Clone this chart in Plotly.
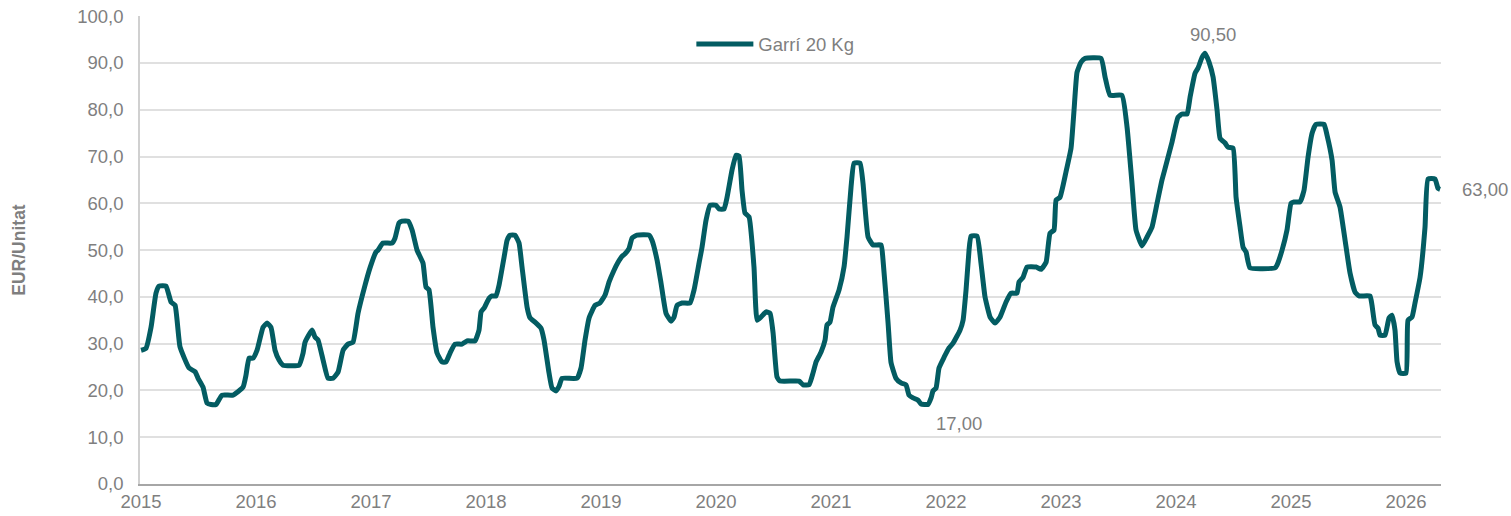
import plotly.graph_objects as go

# Decimal-year positions and prices (EUR/Unitat)
years = [
    2015.000, 2015.043, 2015.087, 2015.130, 2015.157, 2015.217, 2015.261, 2015.296, 2015.339, 2015.417,
    2015.470, 2015.496, 2015.539, 2015.574, 2015.609, 2015.652, 2015.704, 2015.800, 2015.887, 2015.913,
    2015.939, 2015.974, 2016.009, 2016.061, 2016.096, 2016.130, 2016.165, 2016.200, 2016.235, 2016.374,
    2016.409, 2016.426, 2016.487, 2016.513, 2016.539, 2016.583, 2016.626, 2016.670, 2016.713, 2016.757,
    2016.800, 2016.843, 2016.887, 2016.948, 2016.991, 2017.043, 2017.061, 2017.104, 2017.183, 2017.209,
    2017.243, 2017.270, 2017.322, 2017.357, 2017.400, 2017.452, 2017.478, 2017.504, 2017.539, 2017.574,
    2017.617, 2017.652, 2017.687, 2017.730, 2017.791, 2017.835, 2017.904, 2017.939, 2017.957, 2017.983,
    2018.026, 2018.052, 2018.087, 2018.113, 2018.157, 2018.183, 2018.209, 2018.252, 2018.287, 2018.313,
    2018.357, 2018.383, 2018.426, 2018.478, 2018.504, 2018.548, 2018.574, 2018.609, 2018.635, 2018.661,
    2018.791, 2018.826, 2018.861, 2018.896, 2018.948, 2018.991, 2019.035, 2019.070, 2019.113, 2019.148,
    2019.183, 2019.200, 2019.243, 2019.270, 2019.313, 2019.417, 2019.443, 2019.487, 2019.522, 2019.565,
    2019.609, 2019.635, 2019.661, 2019.704, 2019.774, 2019.809, 2019.852, 2019.878, 2019.913, 2019.948,
    2020.000, 2020.026, 2020.070, 2020.096, 2020.139, 2020.174, 2020.200, 2020.226, 2020.252, 2020.287,
    2020.330, 2020.357, 2020.391, 2020.435, 2020.470, 2020.496, 2020.530, 2020.557, 2020.722, 2020.757,
    2020.809, 2020.843, 2020.870, 2020.913, 2020.948, 2020.965, 2020.991, 2021.017, 2021.070, 2021.113,
    2021.139, 2021.174, 2021.200, 2021.252, 2021.278, 2021.322, 2021.365, 2021.435, 2021.452, 2021.496,
    2021.522, 2021.565, 2021.609, 2021.652, 2021.678, 2021.713, 2021.757, 2021.783, 2021.843, 2021.870,
    2021.887, 2021.913, 2021.939, 2021.983, 2022.026, 2022.061, 2022.122, 2022.148, 2022.174, 2022.200,
    2022.217, 2022.270, 2022.304, 2022.339, 2022.383, 2022.426, 2022.470, 2022.522, 2022.565, 2022.617,
    2022.635, 2022.670, 2022.704, 2022.783, 2022.826, 2022.870, 2022.904, 2022.939, 2022.957, 2022.991,
    2023.043, 2023.087, 2023.113, 2023.139, 2023.174, 2023.209, 2023.348, 2023.383, 2023.426, 2023.530,
    2023.574, 2023.617, 2023.652, 2023.704, 2023.748, 2023.791, 2023.835, 2023.878, 2023.913, 2023.965,
    2024.017, 2024.052, 2024.096, 2024.122, 2024.165, 2024.191, 2024.226, 2024.252, 2024.287, 2024.322,
    2024.357, 2024.383, 2024.426, 2024.452, 2024.496, 2024.522, 2024.557, 2024.583, 2024.609, 2024.643,
    2024.861, 2024.878, 2024.922, 2024.965, 2025.000, 2025.026, 2025.078, 2025.113, 2025.148, 2025.183,
    2025.217, 2025.287, 2025.313, 2025.357, 2025.383, 2025.426, 2025.470, 2025.513, 2025.557, 2025.591,
    2025.687, 2025.704, 2025.730, 2025.757, 2025.774, 2025.817, 2025.852, 2025.878, 2025.904, 2025.922,
    2025.948, 2026.000, 2026.017, 2026.052, 2026.078, 2026.122, 2026.165, 2026.191, 2026.252, 2026.278,
    2026.296,
]
prices = [
    28.6, 29.0, 33.5, 40.8, 42.3, 42.3, 38.9, 38.2, 29.3, 24.8,
    24.0, 22.6, 20.7, 17.3, 17.0, 17.0, 19.0, 19.0, 20.7, 23.3,
    26.9, 26.9, 28.6, 33.5, 34.4, 33.5, 28.6, 26.5, 25.4, 25.4,
    28.0, 30.3, 32.9, 31.4, 30.8, 26.5, 22.6, 22.6, 23.9, 28.6,
    29.9, 30.3, 36.5, 42.5, 46.2, 49.6, 50.0, 51.5, 51.5, 52.6,
    55.8, 56.2, 56.2, 54.3, 50.0, 47.2, 42.1, 41.5, 33.5, 28.0,
    26.1, 26.1, 28.0, 29.9, 29.9, 30.6, 30.6, 32.9, 36.8, 37.6,
    39.7, 40.2, 40.2, 42.5, 48.5, 52.1, 53.2, 53.2, 51.5, 46.4,
    37.8, 35.5, 34.6, 33.3, 30.8, 23.7, 20.5, 19.9, 20.9, 22.6,
    22.6, 24.8, 30.8, 35.5, 38.2, 38.7, 40.4, 43.2, 45.7, 47.4,
    48.7, 49.0, 50.3, 52.6, 53.2, 53.2, 52.1, 47.9, 42.9, 36.5,
    34.8, 35.7, 38.2, 38.7, 38.7, 41.5, 47.2, 50.6, 56.4, 59.6,
    59.6, 58.8, 58.8, 61.3, 67.1, 70.3, 70.1, 62.8, 57.9, 57.1,
    46.4, 35.0, 35.7, 36.8, 36.5, 32.3, 22.9, 22.0, 22.0, 21.2,
    21.2, 23.7, 26.1, 28.2, 30.8, 34.0, 34.6, 37.8, 41.5, 46.4,
    52.8, 63.5, 68.6, 68.6, 64.3, 52.8, 51.1, 51.1, 47.9, 34.4,
    25.9, 22.6, 21.6, 21.2, 19.0, 18.4, 17.9, 17.1, 17.0, 18.4,
    19.9, 20.5, 24.8, 27.1, 29.1, 30.1, 32.9, 35.0, 41.5, 50.0,
    53.0, 53.0, 47.2, 40.0, 35.7, 34.4, 35.7, 38.9, 40.8, 40.8,
    43.2, 44.2, 46.4, 46.4, 45.9, 47.4, 53.6, 54.3, 60.7, 61.3,
    66.7, 71.8, 79.9, 88.0, 90.2, 91.0, 91.0, 87.0, 83.1, 83.1,
    76.3, 64.3, 54.3, 50.9, 52.8, 54.9, 60.0, 65.0, 68.2, 73.1,
    78.4, 79.1, 79.1, 82.7, 87.8, 88.9, 91.2, 92.1, 90.2, 87.0,
    79.9, 73.9, 72.9, 72.0, 71.8, 61.3, 54.9, 50.6, 49.6, 46.2,
    46.2, 46.8, 50.0, 54.3, 60.0, 60.3, 60.3, 62.8, 69.9, 75.0,
    76.9, 76.9, 74.6, 69.2, 62.4, 59.2, 52.1, 45.1, 41.0, 40.2,
    40.2, 38.2, 34.0, 33.3, 31.8, 31.8, 35.5, 36.1, 32.9, 26.1,
    23.7, 23.7, 35.0, 35.7, 38.7, 44.2, 54.9, 65.2, 65.2, 63.2,
    63.0,
]

series_name = "Garrí 20 Kg"
y_title = "EUR/Unitat"
x_tick_years = list(range(2015, 2027))
x_tick_labels = [str(y) for y in x_tick_years]
y_tick_vals = list(range(0, 101, 10))
y_tick_labels = [f"{v},0" for v in y_tick_vals]

# labelled points: (year, value, text)
label_max = (2024.252, 92.1, "90,50")
label_min = (2021.843, 17.0, "17,00")
label_last = (2026.296, 63.0, "63,00")

LINE = "#035C62"
GREY = "#7F7F7F"
FONT = "Liberation Sans, Arial, sans-serif"
FS = 18.5

fig = go.Figure()
fig.add_trace(go.Scatter(
    x=years, y=prices, mode="lines", name=series_name,
    line=dict(color=LINE, width=5, shape="spline", smoothing=0.4),
))

fig.add_annotation(x=label_max[0], y=label_max[1], text=label_max[2], showarrow=False,
                   yshift=19, xshift=8, font=dict(size=FS, color=GREY, family=FONT))
fig.add_annotation(x=label_min[0], y=label_min[1], text=label_min[2], showarrow=False,
                   yshift=-19, xshift=31, font=dict(size=FS, color=GREY, family=FONT))
fig.add_annotation(x=label_last[0], y=label_last[1], text=label_last[2], showarrow=False,
                   xanchor="left", xshift=20, yshift=0, font=dict(size=FS, color=GREY, family=FONT))

fig.update_layout(
    width=1511, height=516,
    margin=dict(l=140, r=70, t=16, b=32),
    paper_bgcolor="white", plot_bgcolor="white",
    font=dict(family=FONT, size=FS, color=GREY),
    showlegend=True,
    legend=dict(x=0.4238, y=0.98, xanchor="left", yanchor="top",
                bgcolor="rgba(0,0,0,0)", font=dict(size=FS, color=GREY, family=FONT),
                itemwidth=57),
    xaxis=dict(
        range=[2014.991, 2026.304], automargin=False,
        tickmode="array", tickvals=x_tick_years, ticktext=x_tick_labels,
        showgrid=False, zeroline=False,
        showline=True, linecolor="#A6A6A6", linewidth=1.5,
        ticks="", tickfont=dict(size=FS, color=GREY, family=FONT),
    ),
    yaxis=dict(
        range=[0, 100.05], automargin=False,
        tickmode="array", tickvals=y_tick_vals, ticktext=y_tick_labels,
        showgrid=True, gridcolor="#E0E0E0", gridwidth=1.5,
        zeroline=False, showline=True, linecolor="#D0D0D0", linewidth=1.5,
        ticks="", ticklabelstandoff=11,
        tickfont=dict(size=FS, color=GREY, family=FONT),
        title=dict(text="<b>" + y_title + "</b>", standoff=47,
                   font=dict(size=17.5, color=GREY, family=FONT)),
    ),
)

fig.write_html("out.html",
               config={"displayModeBar": False},
               post_script="document.body.style.margin='0';document.body.style.overflow='hidden';")
